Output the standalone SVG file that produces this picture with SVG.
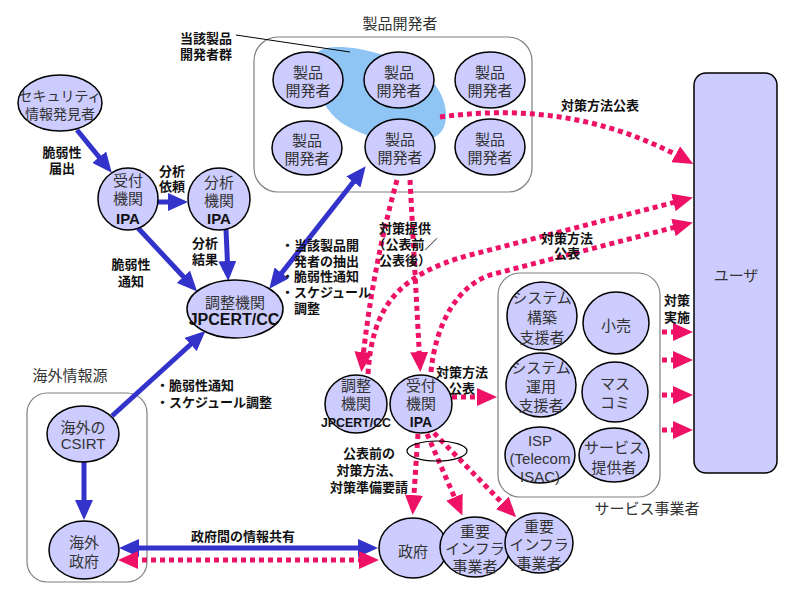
<svg xmlns="http://www.w3.org/2000/svg" width="800" height="600" viewBox="0 0 800 600">
<style>
.nd{fill:#ccccff;stroke:#000;stroke-width:1.5}
.box{fill:none;stroke:#808080;stroke-width:1.2}
.n{font-family:"Liberation Sans","Noto Sans CJK JP",sans-serif;font-size:15px;fill:#333;text-anchor:middle;dominant-baseline:central}
.nb{font-family:"Liberation Sans","Noto Sans CJK JP",sans-serif;font-weight:bold;fill:#111;text-anchor:middle;dominant-baseline:central}
.l{font-family:"Liberation Sans","Noto Sans CJK JP",sans-serif;font-size:13px;font-weight:bold;fill:#111;text-anchor:middle;dominant-baseline:central}
.ls{text-anchor:start}
.t{font-family:"Liberation Sans","Noto Sans CJK JP",sans-serif;font-size:15px;fill:#333;text-anchor:middle;dominant-baseline:central}
.b{fill:none;stroke:#3333cc;stroke-width:5;marker-end:url(#ab)}
.b2{marker-start:url(#ab)}
.p{fill:none;stroke:#ee1166;stroke-width:5;stroke-dasharray:5 4;marker-end:url(#ap)}
.p2{marker-start:url(#ap)}
</style>
<defs>
<marker id="ab" markerUnits="userSpaceOnUse" markerWidth="20" markerHeight="18" refX="14" refY="9" orient="auto-start-reverse"><path d="M0,0 L20,9 L0,18 z" fill="#3333cc"/></marker>
<marker id="ap" markerUnits="userSpaceOnUse" markerWidth="20" markerHeight="18" refX="14" refY="9" orient="auto-start-reverse"><path d="M0,0 L20,9 L0,18 z" fill="#ee1166"/></marker>
</defs>
<rect width="800" height="600" fill="#fff"/>

<g id="groups">
<rect class="box" x="254" y="37" width="278" height="155" rx="24"/>
<text class="t" x="400" y="23">製品開発者</text>
<rect class="box" x="498" y="273" width="162" height="224" rx="22"/>
<text class="t" x="647" y="508">サービス事業者</text>
<rect class="box" x="27" y="393" width="120" height="189" rx="20"/>
<text class="t" x="70" y="375">海外情報源</text>
<path d="M318,52 C330,40 390,50 425,75 C448,92 452,125 438,135 C420,148 380,145 345,125 C320,110 305,70 318,52 Z" fill="#8ec5f5"/>
<line x1="236" y1="35" x2="350" y2="52" stroke="#000" stroke-width="1"/>
<text class="l" x="206" y="38">当該製品</text>
<text class="l" x="206" y="54">開発者群</text>
</g>

<g id="connectors">
<path class="b" d="M77,130 L108,168"/>
<path class="b" d="M158,202 L182,202"/>
<path class="b" d="M138,228 L193,287"/>
<path class="b" d="M226,229 L228,275"/>
<path class="b b2" d="M273,284 L362,171"/>
<path class="b" d="M112,416 L201,335"/>
<path class="b" d="M84,462 L84,514"/>
<path class="b b2" d="M125,548 L372,548"/>
<path class="p p2" d="M124,560 L373,560"/>
<path class="p" d="M440,117 C530,105 610,118 688,161"/>
<path class="p" d="M368,374 C372,310 395,275 470,255 L687,199"/>
<path class="p" d="M431,372 C436,320 460,285 490,275 L687,224"/>
<path class="p" d="M397,180 Q372,270 362,366"/>
<path class="p" d="M410,180 L420,366"/>
<path class="p" d="M452,397 L491,397"/>
<path class="p" d="M662,332 L687,332"/>
<path class="p" d="M662,360 L687,360"/>
<path class="p" d="M662,395 L687,395"/>
<path class="p" d="M662,430 L687,430"/>
<path class="p" d="M418,434 L413,509"/>
<path class="p" d="M427,434 L460,510"/>
<path class="p" d="M434,433 L512,513"/>
<text class="l" x="62" y="152">脆弱性</text>
<text class="l" x="62" y="168">届出</text>
<text class="l" x="172" y="171">分析</text>
<text class="l" x="172" y="186">依頼</text>
<text class="l" x="131" y="264">脆弱性</text>
<text class="l" x="131" y="281">通知</text>
<text class="l" x="205" y="243">分析</text>
<text class="l" x="205" y="259">結果</text>
<text class="l ls" x="281" y="245">・当該製品開</text>
<text class="l ls" x="294" y="261">発者の抽出</text>
<text class="l ls" x="281" y="276">・脆弱性通知</text>
<text class="l ls" x="281" y="292">・スケジュール</text>
<text class="l ls" x="294" y="308">調整</text>
<text class="l ls" x="156" y="385">・脆弱性通知</text>
<text class="l ls" x="156" y="402">・スケジュール調整</text>
<text class="l" x="243" y="536">政府間の情報共有</text>
<text class="l" x="600" y="105">対策方法公表</text>
<text class="l" x="405" y="228">対策提供</text>
<text class="l" x="405" y="244">（公表前／</text>
<text class="l" x="405" y="260">公表後）</text>
<text class="l" x="567" y="238">対策方法</text>
<text class="l" x="567" y="253">公表</text>
<text class="l" x="462" y="372">対策方法</text>
<text class="l" x="462" y="388">公表</text>
<text class="l" x="677" y="300">対策</text>
<text class="l" x="677" y="317">実施</text>
<text class="l" x="369" y="453">公表前の</text>
<text class="l" x="369" y="470">対策方法、</text>
<text class="l" x="369" y="487">対策準備要請</text>
</g>

<g id="finder"><ellipse class="nd" cx="60" cy="103" rx="42" ry="28"/><text class="n" x="60" y="96" style="font-size:14px">セキュリティ</text><text class="n" x="60" y="114" style="font-size:14px">情報発見者</text></g>
<g id="ipa-recv"><ellipse class="nd" cx="128" cy="199" rx="30" ry="31"/><text class="n" x="128" y="180">受付</text><text class="n" x="128" y="198">機関</text><text class="nb" x="128" y="218" style="font-size:15px">IPA</text></g>
<g id="ipa-anal"><ellipse class="nd" cx="219" cy="199" rx="31" ry="31"/><text class="n" x="219" y="182">分析</text><text class="n" x="219" y="200">機関</text><text class="nb" x="219" y="218" style="font-size:15px">IPA</text></g>
<g id="jpcert"><ellipse class="nd" cx="235" cy="309" rx="48" ry="29"/><text class="n" x="235" y="302">調整機関</text><text class="nb" x="234" y="319" style="font-size:16px">JPCERT/CC</text></g>

<g id="dev1"><ellipse class="nd" cx="308" cy="80" rx="35" ry="28"/><text class="n" x="308" y="72">製品</text><text class="n" x="308" y="90">開発者</text></g>
<g id="dev2"><ellipse class="nd" cx="399" cy="80" rx="35" ry="28"/><text class="n" x="399" y="72">製品</text><text class="n" x="399" y="90">開発者</text></g>
<g id="dev3"><ellipse class="nd" cx="490" cy="80" rx="35" ry="28"/><text class="n" x="490" y="72">製品</text><text class="n" x="490" y="90">開発者</text></g>
<g id="dev4"><ellipse class="nd" cx="307" cy="148" rx="35" ry="27"/><text class="n" x="307" y="140">製品</text><text class="n" x="307" y="158">開発者</text></g>
<g id="dev5"><ellipse class="nd" cx="400" cy="147" rx="35" ry="28"/><text class="n" x="400" y="139">製品</text><text class="n" x="400" y="157">開発者</text></g>
<g id="dev6"><ellipse class="nd" cx="490" cy="147" rx="35" ry="28"/><text class="n" x="490" y="139">製品</text><text class="n" x="490" y="157">開発者</text></g>

<g id="user"><rect class="nd" x="694" y="73" width="83" height="400" rx="12"/><text class="n" x="736" y="275">ユーザ</text></g>

<g id="sys-build"><ellipse class="nd" cx="542" cy="316" rx="35" ry="34"/><text class="n" x="542" y="297">システム</text><text class="n" x="542" y="317">構築</text><text class="n" x="542" y="337">支援者</text></g>
<g id="retail"><ellipse class="nd" cx="616" cy="323" rx="33" ry="31"/><text class="n" x="616" y="325">小売</text></g>
<g id="sys-ops"><ellipse class="nd" cx="541" cy="385" rx="35" ry="32"/><text class="n" x="541" y="367">システム</text><text class="n" x="541" y="386">運用</text><text class="n" x="541" y="405">支援者</text></g>
<g id="media"><ellipse class="nd" cx="615" cy="392" rx="33" ry="30"/><text class="n" x="615" y="383">マス</text><text class="n" x="615" y="402">コミ</text></g>
<g id="isp"><ellipse class="nd" cx="540" cy="455" rx="35" ry="28"/><text class="n" x="540" y="440">ISP</text><text class="n" x="540" y="458">(Telecom</text><text class="n" x="540" y="476">ISAC)</text></g>
<g id="service"><ellipse class="nd" cx="614" cy="455" rx="35" ry="27"/><text class="n" x="614" y="447">サービス</text><text class="n" x="614" y="467">提供者</text></g>

<g id="jpcert-mid"><ellipse class="nd" cx="356" cy="404" rx="31" ry="29"/><text class="n" x="356" y="385">調整</text><text class="n" x="356" y="403">機関</text><text class="nb" x="356" y="422" style="font-size:13px" textLength="70" lengthAdjust="spacingAndGlyphs">JPCERT/CC</text></g>
<g id="ipa-mid"><ellipse class="nd" cx="421" cy="404" rx="31" ry="29"/><text class="n" x="421" y="385">受付</text><text class="n" x="421" y="403">機関</text><text class="nb" x="421" y="422" style="font-size:14px">IPA</text></g>
<ellipse id="mark" cx="437" cy="451" rx="30" ry="10" fill="none" stroke="#000" stroke-width="1.2"/>

<g id="gov"><ellipse class="nd" cx="413" cy="548" rx="34" ry="30"/><text class="n" x="413" y="551">政府</text></g>
<g id="infra1"><ellipse class="nd" cx="475" cy="547" rx="35" ry="30"/><text class="n" x="475" y="531">重要</text><text class="n" x="475" y="548">インフラ</text><text class="n" x="475" y="566">事業者</text></g>
<g id="infra2"><ellipse class="nd" cx="539" cy="543" rx="34" ry="30"/><text class="n" x="539" y="526">重要</text><text class="n" x="539" y="544">インフラ</text><text class="n" x="539" y="563">事業者</text></g>

<g id="csirt"><ellipse class="nd" cx="83" cy="434" rx="36" ry="28"/><text class="n" x="83" y="427">海外の</text><text class="n" x="83" y="443">CSIRT</text></g>
<g id="foreign-gov"><ellipse class="nd" cx="84" cy="550" rx="35" ry="29"/><text class="n" x="84" y="542">海外</text><text class="n" x="84" y="561">政府</text></g>
</svg>
